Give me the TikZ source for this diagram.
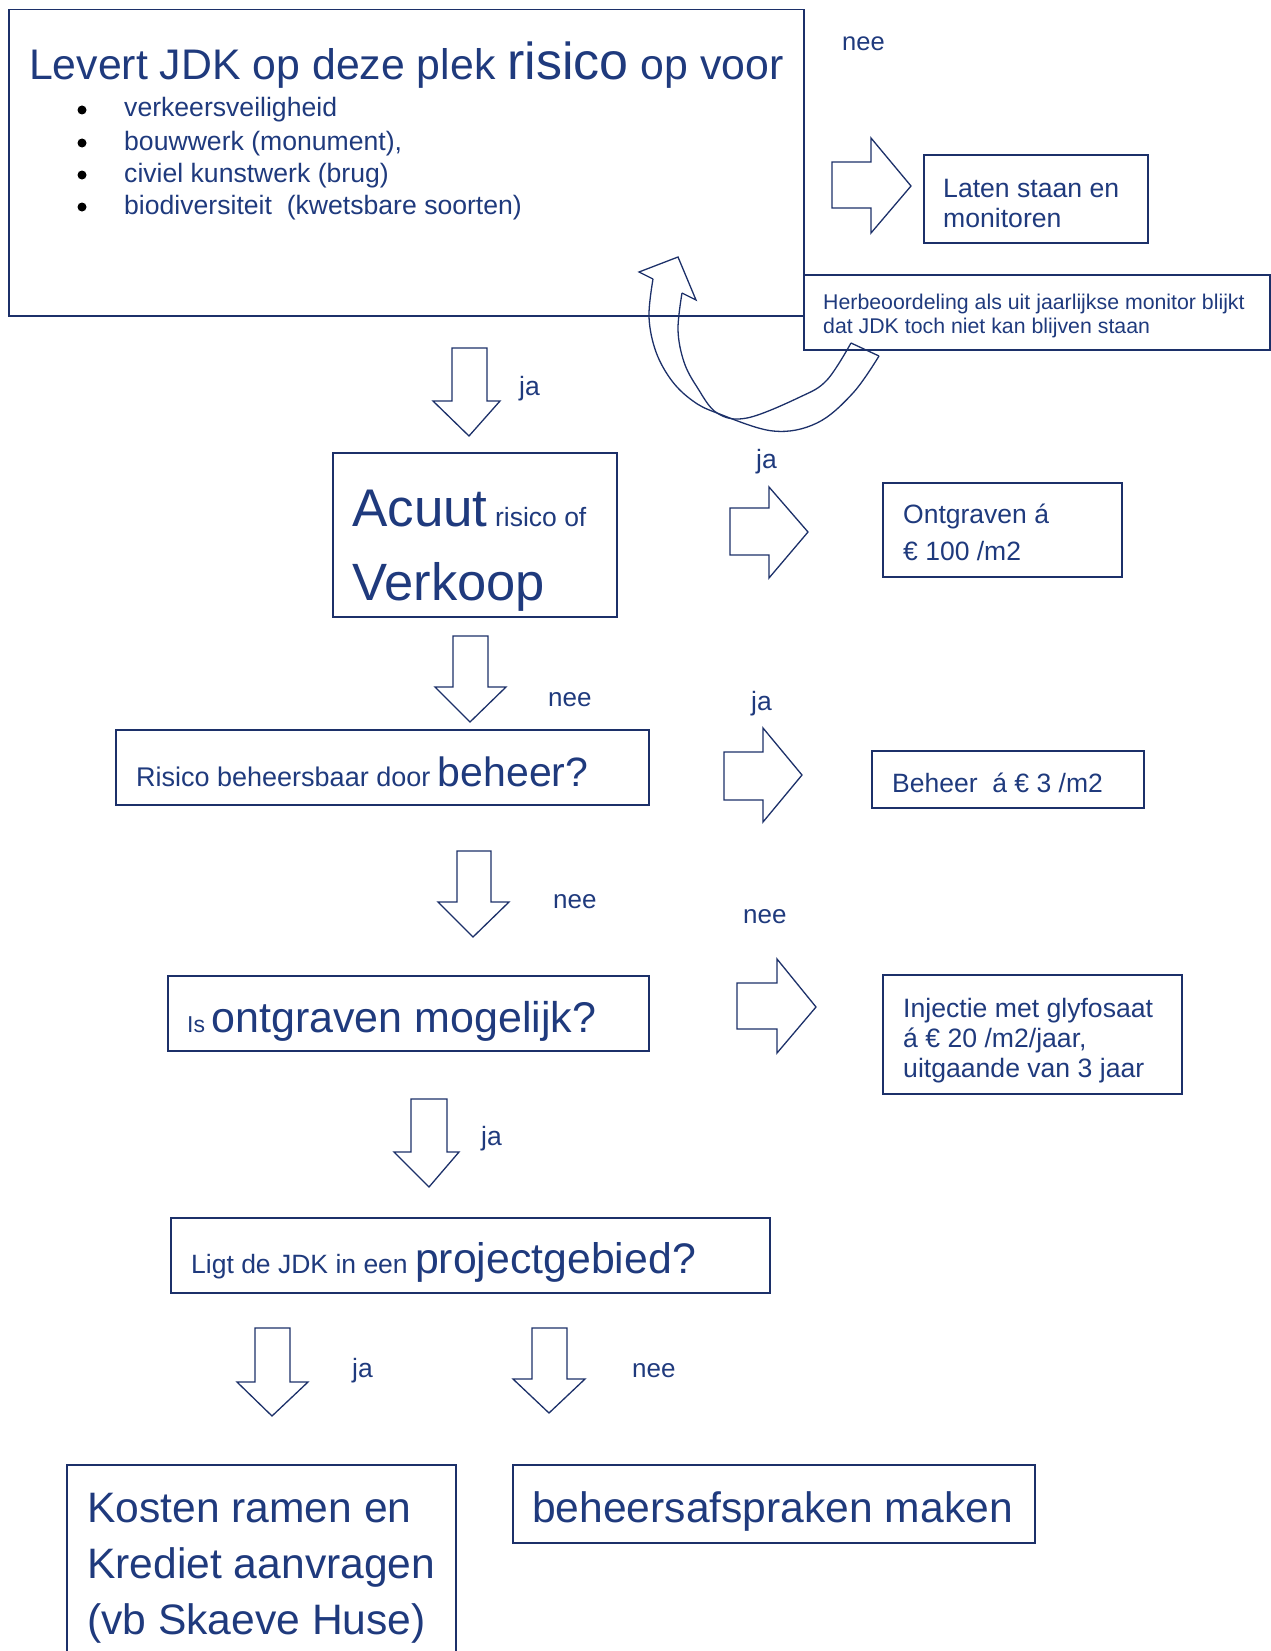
\documentclass[tikz,border=0pt]{standalone}
\usepackage{fontspec}
\setmainfont{Liberation Sans}
\definecolor{tb}{RGB}{31,58,125}
\definecolor{lb}{RGB}{28,48,105}
\newcommand\fsz[1]{\fontsize{#1}{#1}\selectfont}
\begin{document}
\begin{tikzpicture}[x=1pt,y=-1pt,
  boxst/.style={draw=lb, line width=1.5pt, anchor=north west, inner sep=0},
  tx/.style={anchor=base west, inner sep=0, text=tb},
  blk/.style={draw=lb, line width=1.3pt, line join=miter, fill=white},
  bul/.style={circle, fill=black, inner sep=0, minimum size=9pt}]
\useasboundingbox (0,0) rectangle (1270,1651);

% ---------- boxes ----------
\node[boxst, minimum width=795pt, minimum height=306pt] (top) at (8,9) {};
\node[boxst, minimum width=224pt, minimum height=88pt] (laten) at (923,154) {};
\node[boxst, minimum width=466pt, minimum height=75pt] (herb) at (803,274) {};
\node[boxst, minimum width=284pt, minimum height=164pt] (acuut) at (332,452) {};
\node[boxst, minimum width=239pt, minimum height=94pt] (ontgr) at (882,482) {};
\node[boxst, minimum width=533pt, minimum height=75pt] (risico) at (115,729) {};
\node[boxst, minimum width=272pt, minimum height=57pt] (beheer) at (871,750) {};
\node[boxst, minimum width=481pt, minimum height=75pt] (isontg) at (167,975) {};
\node[boxst, minimum width=299pt, minimum height=119pt] (inject) at (882,974) {};
\node[boxst, minimum width=599pt, minimum height=75pt] (ligt) at (170,1217) {};
\node[boxst, minimum width=389pt, minimum height=200pt] (kosten) at (66,1464) {};
\node[boxst, minimum width=522pt, minimum height=78pt] (afspr) at (512,1464) {};

% ---------- block arrows (down) ----------
\draw[blk] (452,348) -- (487,348) -- (487,401) -- (500,401) -- (469,436) -- (433,401) -- (452,401) -- cycle;
\draw[blk] (453,636) -- (488,636) -- (488,687) -- (506,687) -- (470,722) -- (435,687) -- (453,687) -- cycle;
\draw[blk] (457,851) -- (491,851) -- (491,902) -- (509,902) -- (473,937) -- (438,902) -- (457,902) -- cycle;
\draw[blk] (411,1099) -- (447,1099) -- (447,1152) -- (459,1152) -- (429,1187) -- (394,1152) -- (411,1152) -- cycle;
\draw[blk] (255,1328) -- (290,1328) -- (290,1382) -- (308,1382) -- (272,1416) -- (237,1382) -- (255,1382) -- cycle;
\draw[blk] (532,1328) -- (567,1328) -- (567,1379) -- (585,1379) -- (549,1413) -- (513,1379) -- (532,1379) -- cycle;

% ---------- block arrows (right) ----------
\draw[blk] (832,162) -- (871,162) -- (871,138) -- (911,186) -- (871,233) -- (871,208) -- (832,208) -- cycle;
\draw[blk] (730,508) -- (769,508) -- (769,487) -- (808,532) -- (769,578) -- (769,555) -- (730,555) -- cycle;
\draw[blk] (724,752) -- (763,752) -- (763,728) -- (802,775) -- (763,822) -- (763,800) -- (724,800) -- cycle;
\draw[blk] (737,983) -- (777,983) -- (777,959) -- (816,1007) -- (777,1053) -- (777,1029) -- (737,1029) -- cycle;

% ---------- curved arrow ----------
\begin{scope}[draw=lb, line width=1.3pt]
\draw plot[smooth, tension=0.6] coordinates {(653,279) (649,317) (656,352) (672,381) (693,401) (717,413) (773,431) (817,423) (853,393) (879,356)};
\draw plot[smooth, tension=0.6] coordinates {(682,293) (678,330) (684,362) (697,387) (717,413) (747,418) (800,397) (827,380) (851,343)};
\draw (851,343) -- (879,356);
\draw[line join=miter] (653,279) -- (639,272) -- (678,257) -- (696,300) -- (682,293);
\end{scope}

% ---------- texts ----------
\node[tx] (title) at (29,80) {\fsz{42.8}Levert JDK op deze plek {\fsz{52}risico} op voor};
\node[bul] (b1) at (82,110) {};
\node[bul] (b2) at (82,143) {};
\node[bul] (b3) at (82,175) {};
\node[bul] (b4) at (82,207) {};
\node[tx, font=\fsz{26.6}] (l1) at (124,117) {verkeersveiligheid};
\node[tx, font=\fsz{26.6}] (l2) at (124,150) {bouwwerk (monument),};
\node[tx, font=\fsz{26.6}] (l3) at (124,182) {civiel kunstwerk (brug)};
\node[tx, font=\fsz{26.6}] (l4) at (124,214) {biodiversiteit\ \ (kwetsbare soorten)};

\node[tx, font=\fsz{25.5}] (nee0) at (842,51) {nee};
\node[tx, font=\fsz{26.6}] (lat1) at (943,197) {Laten staan en};
\node[tx, font=\fsz{26.6}] (lat2) at (943,227) {monitoren};
\node[tx, font=\fsz{21.3}] (her1) at (823,309) {Herbeoordeling als uit jaarlijkse monitor blijkt};
\node[tx, font=\fsz{21.3}] (her2) at (823,333) {dat JDK toch niet kan blijven staan};

\node[tx, font=\fsz{26.5}] (ja1) at (519,395) {ja};
\node[tx, font=\fsz{26.5}] (ja2) at (756,468) {ja};
\node[tx] (acu1) at (352,526) {\fsz{53}Acuut{\fsz{26.5} risico of}};
\node[tx, font=\fsz{52.5}] (acu2) at (352,600) {Verkoop};
\node[tx, font=\fsz{26.5}] (ont1) at (903,523) {Ontgraven á};
\node[tx, font=\fsz{26.5}] (ont2) at (903,560) {€ 100 /m2};

\node[tx, font=\fsz{26}] (nee1) at (548,706) {nee};
\node[tx, font=\fsz{26.5}] (ja3) at (751,710) {ja};
\node[tx] (ris) at (136,786) {\fsz{27}Risico beheersbaar door {\fsz{41}beheer?}};
\node[tx, font=\fsz{26.5}] (beh) at (892,792) {Beheer\ \ á € 3 /m2};

\node[tx, font=\fsz{26}] (nee2) at (553,908) {nee};
\node[tx, font=\fsz{26}] (nee3) at (743,923) {nee};
\node[tx] (iso) at (187,1032) {\fsz{23}Is {\fsz{43}ontgraven mogelijk?}};
\node[tx, font=\fsz{26.6}] (inj1) at (903,1017) {Injectie met glyfosaat};
\node[tx, font=\fsz{26.6}] (inj2) at (903,1047) {á € 20 /m2/jaar,};
\node[tx, font=\fsz{26.6}] (inj3) at (903,1077) {uitgaande van 3 jaar};

\node[tx, font=\fsz{26.5}] (ja4) at (481,1145) {ja};
\node[tx] (lig) at (191,1273) {\fsz{26.5}Ligt de JDK in een {\fsz{42.8}projectgebied?}};

\node[tx, font=\fsz{26.5}] (ja5) at (352,1377) {ja};
\node[tx, font=\fsz{26}] (nee4) at (632,1377) {nee};

\node[tx, font=\fsz{42.6}] (kos1) at (87,1522) {Kosten ramen en};
\node[tx, font=\fsz{42.6}] (kos2) at (87,1578) {Krediet aanvragen};
\node[tx, font=\fsz{42.6}] (kos3) at (87,1634) {(vb Skaeve Huse)};
\node[tx, font=\fsz{42.6}] (afs) at (532,1522) {beheersafspraken maken};
\end{tikzpicture}
\end{document}
